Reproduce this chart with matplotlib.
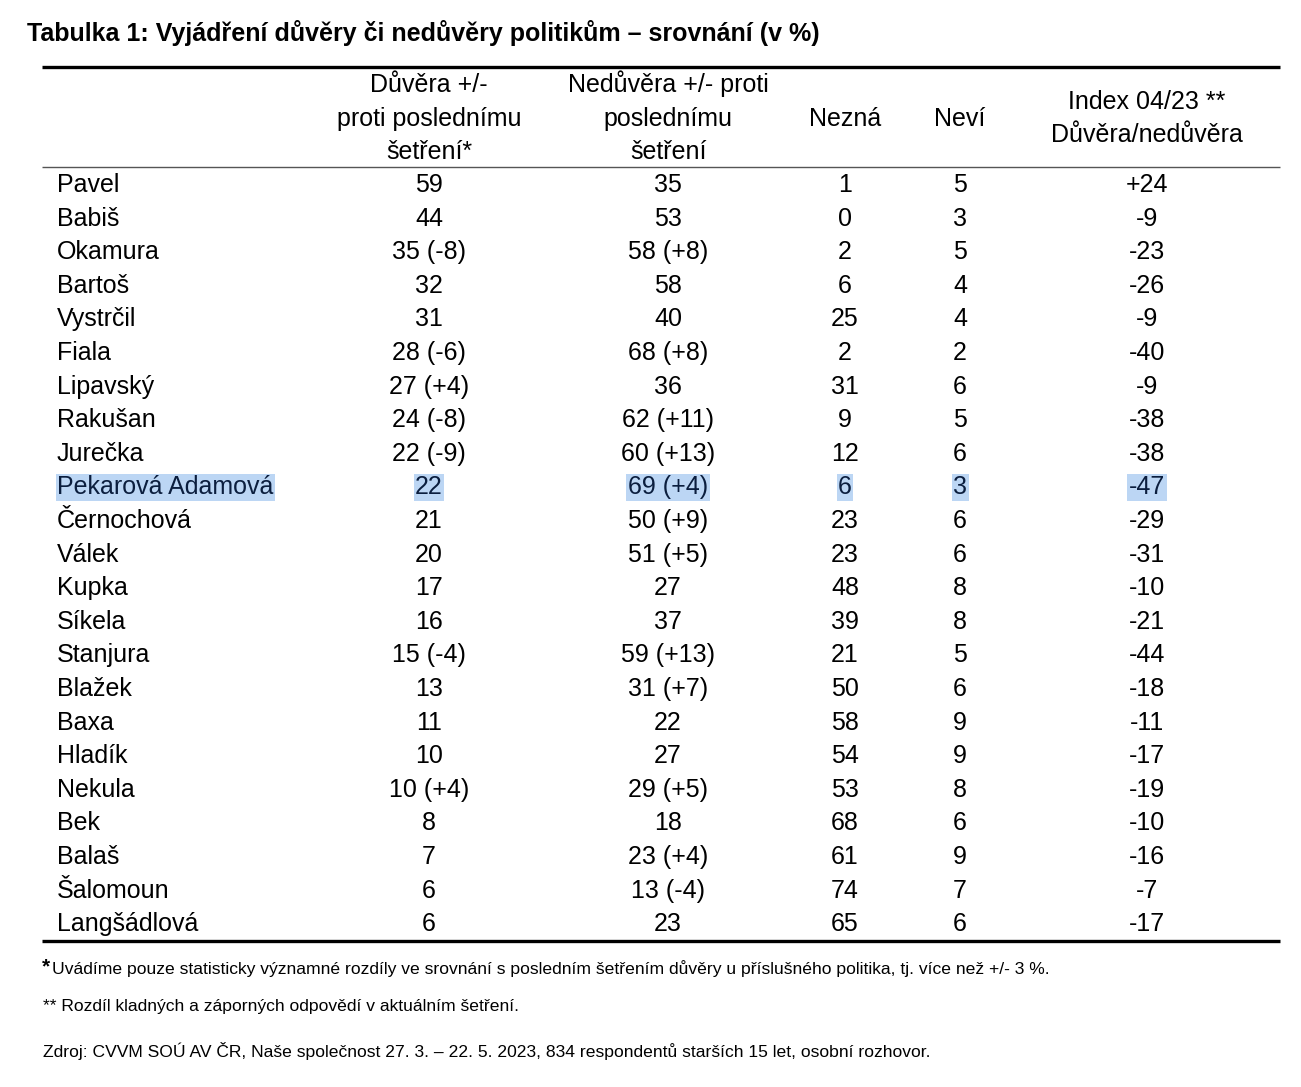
import matplotlib
matplotlib.use("Agg")
import matplotlib.pyplot as plt

plt.rcParams['font.family'] = ['Liberation Sans', 'DejaVu Sans']

title = "Tabulka 1: Vyjádření důvěry či nedůvěry politikům – srovnání (v %)"
headers = [
    ["Důvěra +/-", "proti poslednímu", "šetření*"],
    ["Nedůvěra +/- proti", "poslednímu", "šetření"],
    ["Nezná"],
    ["Neví"],
    ["Index 04/23 **", "Důvěra/nedůvěra"],
]
names = ["Pavel", "Babiš", "Okamura", "Bartoš", "Vystrčil", "Fiala", "Lipavský",
         "Rakušan", "Jurečka", "Pekarová Adamová", "Černochová", "Válek", "Kupka",
         "Síkela", "Stanjura", "Blažek", "Baxa", "Hladík", "Nekula", "Bek", "Balaš",
         "Šalomoun", "Langšádlová"]
duvera = ["59", "44", "35 (-8)", "32", "31", "28 (-6)", "27 (+4)", "24 (-8)", "22 (-9)",
          "22", "21", "20", "17", "16", "15 (-4)", "13", "11", "10", "10 (+4)", "8", "7",
          "6", "6"]
neduvera = ["35", "53", "58 (+8)", "58", "40", "68 (+8)", "36", "62 (+11)", "60 (+13)",
            "69 (+4)", "50 (+9)", "51 (+5)", "27", "37", "59 (+13)", "31 (+7)", "22", "27",
            "29 (+5)", "18", "23 (+4)", "13 (-4)", "23"]
nezna = ["1", "0", "2", "6", "25", "2", "31", "9", "12", "6", "23", "23", "48", "39",
         "21", "50", "58", "54", "53", "68", "61", "74", "65"]
nevi = ["5", "3", "5", "4", "4", "2", "6", "5", "6", "3", "6", "6", "8", "8", "5", "6",
        "9", "9", "8", "6", "9", "7", "6"]
index = ["+24", "-9", "-23", "-26", "-9", "-40", "-9", "-38", "-38", "-47", "-29", "-31",
         "-10", "-21", "-44", "-18", "-11", "-17", "-19", "-10", "-16", "-7", "-17"]
highlight_row = "Pekarová Adamová"

foot1_star = "*"
foot1 = "Uvádíme pouze statisticky významné rozdíly ve srovnání s posledním šetřením důvěry u příslušného politika, tj. více než +/- 3 %."
foot2 = "** Rozdíl kladných a záporných odpovědí v aktuálním šetření."
source = "Zdroj: CVVM SOÚ AV ČR, Naše společnost 27. 3. – 22. 5. 2023, 834 respondentů starších 15 let, osobní rozhovor."

W, H = 1301, 1087
fig = plt.figure(figsize=(W / 100, H / 100), dpi=100)
ax = fig.add_axes([0, 0, 1, 1])
ax.set_xlim(0, W)
ax.set_ylim(H, 0)
ax.axis('off')

FS = 18
FFS = 12.6
col_x = [429, 668, 845, 960, 1147]
name_x = 57
row0, row_h = 192, 33.6   # baselines

ax.text(27, 41, title, fontsize=18, fontweight='bold', ha='left', va='baseline')

ax.plot([42, 1280], [67, 67], color='black', lw=2.4, solid_capstyle='butt')
ax.plot([42, 1280], [167, 167], color='#555555', lw=1.0, solid_capstyle='butt')
ax.plot([42, 1280], [941, 941], color='black', lw=2.4, solid_capstyle='butt')

header_y = {3: [92, 126, 159], 1: [126], 2: [109, 142]}
for cx, lines in zip(col_x, headers):
    for ly, line in zip(header_y[len(lines)], lines):
        ax.text(cx, ly, line, fontsize=FS, ha='center', va='baseline')

hl_box = dict(boxstyle='square,pad=0.06', fc='#BCD6F4', ec='none')
for i, nm in enumerate(names):
    y = row0 + i * row_h
    hl = nm == highlight_row
    kw = dict(fontsize=FS, va='baseline', color='#0B1E3E' if hl else 'black')
    if hl:
        kw['bbox'] = hl_box
    ax.text(name_x, y, nm, ha='left', **kw)
    for cx, val in zip(col_x, [duvera[i], neduvera[i], nezna[i], nevi[i], index[i]]):
        ax.text(cx, y, val, ha='center', **kw)

ax.text(42, 972, foot1_star, fontsize=15, fontweight='bold', ha='left', va='baseline')
ax.text(52, 974, foot1, fontsize=FFS, ha='left', va='baseline')
ax.text(43, 1011, foot2, fontsize=FFS, ha='left', va='baseline')
ax.text(43, 1057, source, fontsize=FFS, ha='left', va='baseline')

fig.savefig("out.png", dpi=100)
